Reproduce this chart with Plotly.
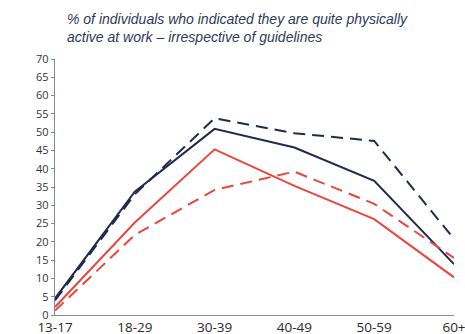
import plotly.graph_objects as go

age_groups = ["13-17", "18-29", "30-39", "40-49", "50-59", "60+"]

navy_solid = [4.5, 33.7, 50.9, 45.8, 36.7, 13.9]
navy_dashed = [4.0, 33.0, 53.8, 49.7, 47.6, 20.8]
red_solid = [2.2, 25.3, 45.3, 35.3, 26.2, 10.3]
red_dashed = [1.2, 21.9, 34.2, 39.2, 30.4, 15.6]

y_ticks = list(range(0, 75, 5))

NAVY = "#1f2a4c"
RED = "#e8473f"

fig = go.Figure()
series = [
    (navy_dashed, NAVY, "dash"),
    (navy_solid, NAVY, "solid"),
    (red_dashed, RED, "dash"),
    (red_solid, RED, "solid"),
]
for vals, col, dash in series:
    fig.add_trace(go.Scatter(
        x=list(range(len(age_groups))), y=vals, mode="lines",
        line=dict(color=col, width=2, dash=dash if dash == "solid" else "12px,7px"),
        showlegend=False, hoverinfo="skip",
    ))

fig.update_layout(
    width=465, height=334,
    margin=dict(l=55, r=11, t=59, b=19),
    paper_bgcolor="white", plot_bgcolor="white",
    showlegend=False,
    xaxis=dict(
        range=[0, 5], tickmode="array",
        tickvals=list(range(len(age_groups))), ticktext=age_groups,
        showgrid=False, zeroline=False, automargin=False,
        showline=True, linecolor="#8a8a8a", linewidth=1.3,
        ticks="", ticklabeloverflow="allow", ticklabelstandoff=0,
        tickfont=dict(family="Open Sans", size=13.5, color="#2a2a2a"),
    ),
    yaxis=dict(
        range=[0, 70], tickmode="array", tickvals=y_ticks,
        showgrid=False, zeroline=False, automargin=False,
        showline=True, linecolor="#8a8a8a", linewidth=1.3,
        ticks="outside", ticklen=3, tickcolor="#8a8a8a", tickwidth=1,
        tickfont=dict(family="Open Sans", size=11, color="#333333"),
    ),
    annotations=[dict(
        xref="paper", yref="paper", x=(65 - 55) / 399, y=1 + (59 - 9) / 256,
        xanchor="left", yanchor="top", align="left", showarrow=False,
        text="<i>% of individuals who indicated they are quite physically<br>active at work – irrespective of guidelines</i>",
        font=dict(family="Liberation Sans", size=14, color="#2e3a58"),
    )],
)

fig.write_html("out.html")
